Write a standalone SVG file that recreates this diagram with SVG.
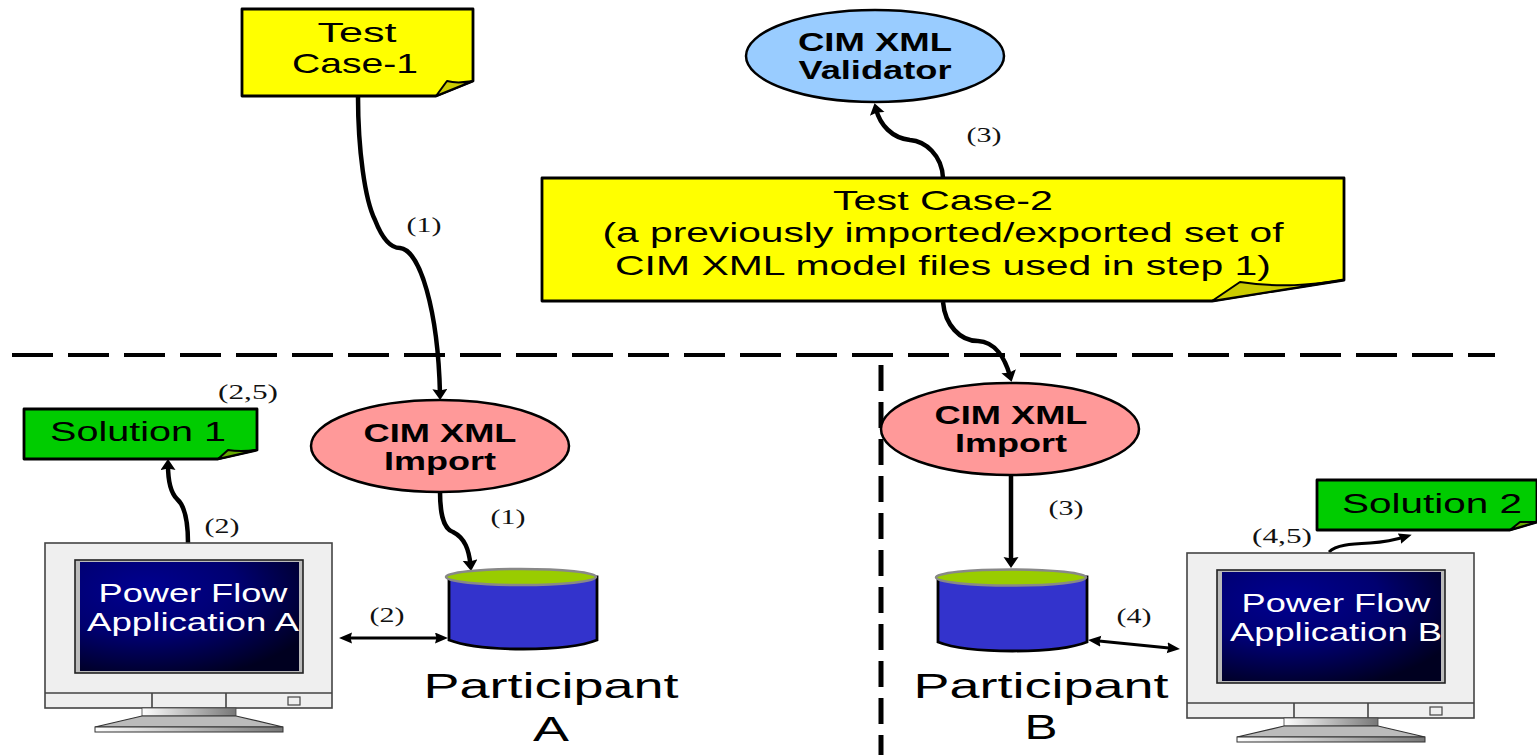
<svg xmlns="http://www.w3.org/2000/svg" width="1537" height="755" viewBox="0 0 1537 755">
<style>
text{font-family:"Liberation Sans",Arial,sans-serif;fill:#000;text-anchor:middle}
.s{font-family:"Liberation Serif","Times New Roman",serif;font-size:21px;fill:#111}
.n{font-size:27.500px}
.b{font-size:25.500px;font-weight:bold}
.w{font-size:25px;fill:#fff}
.p{font-size:35px}
.note{stroke:#000;stroke-width:2.800;stroke-linejoin:round}
.fold{stroke:#000;stroke-width:2;stroke-linejoin:round}
.c{fill:none;stroke:#000;stroke-width:4.500}
.t{fill:none;stroke:#000;stroke-width:3}
.dh{fill:none;stroke:#000;stroke-width:3.800;stroke-dasharray:41 15}
.dv{fill:none;stroke:#000;stroke-width:5;stroke-dasharray:26 11}
.el{stroke:#000;stroke-width:2.500}
.case{fill:#efefef;stroke:#444;stroke-width:1.600}
.body{fill:#3333cc;stroke:#000;stroke-width:2.800}
.top{fill:#99cc00;stroke:#888;stroke-width:2.500}
</style>
<defs>
<marker id="a" markerUnits="userSpaceOnUse" markerWidth="12" markerHeight="16" refX="5" refY="7.500" orient="auto-start-reverse"><path d="M0 0L11 7.500L0 15L1.500 7.500Z" fill="#000"/></marker>
<marker id="m" markerUnits="userSpaceOnUse" markerWidth="14" markerHeight="12" refX="7" refY="5.500" orient="auto-start-reverse"><path d="M0 0L13 5.500L0 11L1.500 5.500Z" fill="#000"/></marker>
<radialGradient id="sc" cx="0.3" cy="0.25" r="0.85"><stop offset="0" stop-color="#000090"/><stop offset="0.5" stop-color="#000070"/><stop offset="1" stop-color="#000020"/></radialGradient>
<linearGradient id="nk"><stop offset="0" stop-color="#fff"/><stop offset="1" stop-color="#777"/></linearGradient>
<g id="monitor">
<rect x="0" y="0" width="287" height="165" class="case"/>
<path d="M0 150H287M107 150V165M181 150V165" fill="none" stroke="#444" stroke-width="1.600"/>
<rect x="243" y="154" width="12" height="8" fill="none" stroke="#444" stroke-width="1.200"/>
<rect x="30" y="17" width="228" height="113" fill="#bbb" stroke="#222" stroke-width="1.600"/>
<rect x="35" y="19" width="219" height="109" fill="url(#sc)"/>
<rect x="97" y="165" width="94" height="8" fill="url(#nk)" stroke="#444" stroke-width="0.800"/>
<path d="M97 173H191L238 184H50Z" fill="#bbb" stroke="#333" stroke-width="1.200"/>
<rect x="50" y="184" width="188" height="5" fill="url(#nk)" stroke="#333" stroke-width="1"/>
</g>
</defs>

<g id="connectors">
<path class="dh" d="M12 355H1495"/>
<path class="dv" d="M881 365V755"/>
<path class="c" marker-end="url(#a)" d="M358 96C358 150 365 200 375 220C382 238 390 248 400 248C420 250 438 310 440 394"/>
<path class="c" marker-end="url(#a)" d="M440 491C440 510 442 528 453 532C465 538 469 550 470.500 565"/>
<path class="c" marker-end="url(#a)" d="M188 543C188 520 184 505 177 499C170 492 168 480 168 465"/>
<path class="t" marker-start="url(#m)" marker-end="url(#m)" d="M345 638H442"/>
<path class="c" marker-end="url(#a)" d="M943 178C942 155 925 141 910 140C892 138 880 125 876 109"/>
<path class="c" marker-end="url(#a)" d="M943 302C945 325 960 341 978 341C995 342 1005 358 1010 376"/>
<path class="c" marker-end="url(#a)" d="M1011 476V562"/>
<path class="t" marker-start="url(#m)" marker-end="url(#m)" d="M1094 640.500L1174 648.500"/>
<path class="t" marker-end="url(#m)" d="M1329 552C1336 545 1350 544 1370 543C1385 542 1395 540 1406 536.500"/>
</g>

<g id="test-case-1">
<path class="note" fill="#ffff00" d="M242 9H473V81L436 96H242Z"/>
<path class="fold" fill="#cccc00" d="M436 96L447 81C458 84 465 82 473 81Z"/>
<text class="n" x="357" y="42" textLength="79" lengthAdjust="spacingAndGlyphs">Test</text>
<text class="n" x="355" y="73" textLength="126" lengthAdjust="spacingAndGlyphs">Case-1</text>
</g>

<g id="validator">
<ellipse class="el" cx="875" cy="56" rx="129" ry="46" fill="#99ccff"/>
<text class="b" x="875" y="51" textLength="154" lengthAdjust="spacingAndGlyphs">CIM XML</text>
<text class="b" x="875" y="79" textLength="153" lengthAdjust="spacingAndGlyphs">Validator</text>
</g>

<g id="test-case-2">
<path class="note" fill="#ffff00" d="M542 178H1344V280L1212 301H542Z"/>
<path class="fold" fill="#cccc00" d="M1212 301L1240 282C1280 288 1310 285 1344 280Z"/>
<text class="n" x="943" y="210" textLength="220" lengthAdjust="spacingAndGlyphs">Test Case-2</text>
<text class="n" x="943" y="242" textLength="681" lengthAdjust="spacingAndGlyphs">(a previously imported/exported set of</text>
<text class="n" x="943" y="275" textLength="656" lengthAdjust="spacingAndGlyphs">CIM XML model files used in step 1)</text>
</g>

<g id="solution-1">
<path class="note" fill="#00cc00" d="M24 409H257V450L218 459H24Z"/>
<path class="fold" fill="#66aa00" d="M218 459L228 450C240 452 248 451 257 450Z"/>
<text class="n" x="138" y="441" textLength="176" lengthAdjust="spacingAndGlyphs">Solution 1</text>
</g>

<g id="import-a">
<ellipse class="el" cx="440" cy="446" rx="129" ry="46" fill="#ff9999"/>
<text class="b" x="440" y="442" textLength="153" lengthAdjust="spacingAndGlyphs">CIM XML</text>
<text class="b" x="440" y="470" textLength="112" lengthAdjust="spacingAndGlyphs">Import</text>
</g>

<g id="import-b">
<ellipse class="el" cx="1010" cy="429" rx="129" ry="46" fill="#ff9999"/>
<text class="b" x="1011" y="424" textLength="153" lengthAdjust="spacingAndGlyphs">CIM XML</text>
<text class="b" x="1011" y="452" textLength="112" lengthAdjust="spacingAndGlyphs">Import</text>
</g>

<g id="solution-2">
<path class="note" fill="#00cc00" d="M1317 480H1537V522L1510 530H1317Z"/>
<path class="fold" fill="#66aa00" d="M1510 530L1520 522L1537 522Z"/>
<text class="n" x="1432" y="513" textLength="180" lengthAdjust="spacingAndGlyphs">Solution 2</text>
</g>

<g id="app-a">
<use href="#monitor" x="45" y="543"/>
<text class="w" x="193" y="602" textLength="189" lengthAdjust="spacingAndGlyphs">Power Flow</text>
<text class="w" x="193" y="631" textLength="212" lengthAdjust="spacingAndGlyphs">Application A</text>
</g>

<g id="app-b">
<use href="#monitor" x="1187" y="553"/>
<text class="w" x="1336" y="612" textLength="189" lengthAdjust="spacingAndGlyphs">Power Flow</text>
<text class="w" x="1336" y="641" textLength="212" lengthAdjust="spacingAndGlyphs">Application B</text>
</g>

<g id="db-a">
<path class="body" d="M449 577V640C480 652 567 652 597 640V577Z"/>
<ellipse class="top" cx="521" cy="577" rx="75" ry="8"/>
</g>
<g id="db-b">
<path class="body" d="M938 577V642C968 654 1057 654 1087 642V577Z"/>
<ellipse class="top" cx="1011" cy="577.500" rx="75" ry="8"/>
</g>

<g id="participant-a">
<text class="p" x="551" y="698" textLength="255" lengthAdjust="spacingAndGlyphs">Participant</text>
<text class="p" x="551" y="741" textLength="36" lengthAdjust="spacingAndGlyphs">A</text>
</g>
<g id="participant-b">
<text class="p" x="1041" y="698" textLength="255" lengthAdjust="spacingAndGlyphs">Participant</text>
<text class="p" x="1041" y="739" textLength="33" lengthAdjust="spacingAndGlyphs">B</text>
</g>

<g id="labels">
<text class="s" x="424" y="232" textLength="35" lengthAdjust="spacingAndGlyphs">(1)</text>
<text class="s" x="984" y="142" textLength="35" lengthAdjust="spacingAndGlyphs">(3)</text>
<text class="s" x="248" y="399" textLength="60" lengthAdjust="spacingAndGlyphs">(2,5)</text>
<text class="s" x="222" y="533" textLength="35" lengthAdjust="spacingAndGlyphs">(2)</text>
<text class="s" x="508" y="524" textLength="35" lengthAdjust="spacingAndGlyphs">(1)</text>
<text class="s" x="387" y="622" textLength="35" lengthAdjust="spacingAndGlyphs">(2)</text>
<text class="s" x="1066" y="515" textLength="35" lengthAdjust="spacingAndGlyphs">(3)</text>
<text class="s" x="1134" y="623" textLength="35" lengthAdjust="spacingAndGlyphs">(4)</text>
<text class="s" x="1282" y="543" textLength="60" lengthAdjust="spacingAndGlyphs">(4,5)</text>
</g>
</svg>
